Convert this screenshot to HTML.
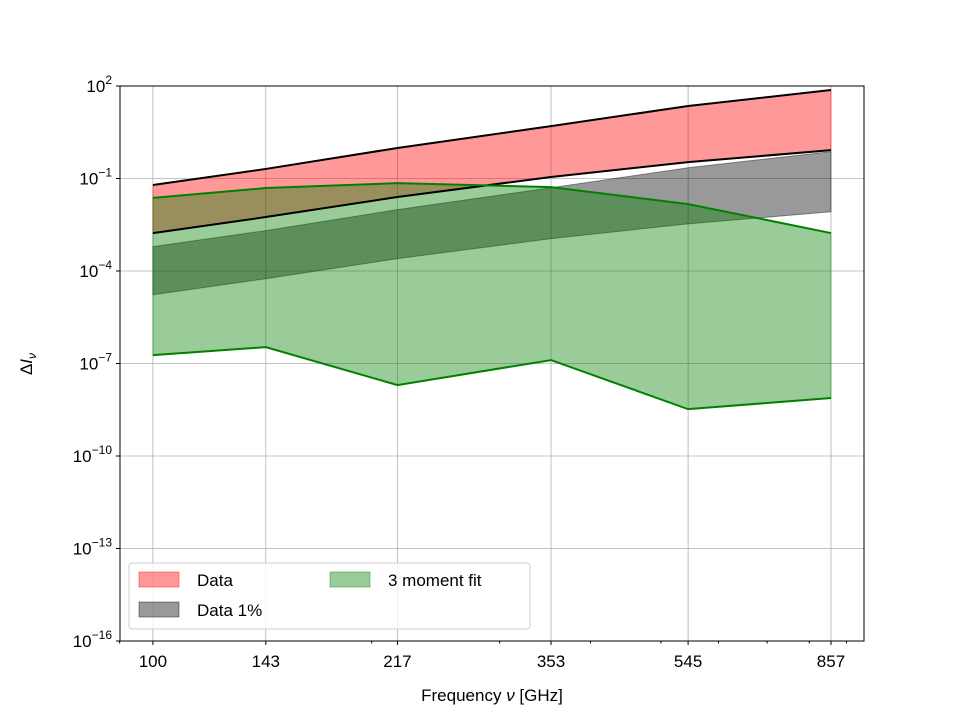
<!DOCTYPE html>
<html><head><meta charset="utf-8"><style>
body{margin:0;background:#fff;font-family:"Liberation Sans","DejaVu Sans",sans-serif}
</style></head><body>
<svg id="chart" width="960" height="720" xmlns="http://www.w3.org/2000/svg"></svg>
<script>
const freqs=[100,143,217,353,545,857];
const dataUpperExp=[-1.21,-0.69,-0.01,0.70,1.35,1.87];
const dataLowerExp=[-2.77,-2.25,-1.60,-0.95,-0.47,-0.08];
const onePctUpperExp=[-3.21,-2.69,-2.01,-1.30,-0.65,-0.13];
const onePctLowerExp=[-4.77,-4.25,-3.60,-2.95,-2.47,-2.08];
const fitUpperExp=[-1.63,-1.31,-1.15,-1.28,-1.83,-2.77];
const fitLowerExp=[-6.73,-6.47,-7.70,-6.89,-8.48,-8.12];
const yTickExps=[2,-1,-4,-7,-10,-13,-16];
const minorFreqs=[90,200,300,400,500,600,700,800,900];

const L=120,R=864,T=86,B=641;
const xmin=Math.log10(90.1),xmax=Math.log10(951.5);
const X=f=>L+(Math.log10(f)-xmin)/(xmax-xmin)*(R-L);
const Y=e=>T+(2-e)/18*(B-T);
const svg=document.getElementById('chart');
const NS='http://www.w3.org/2000/svg';
function mk(tag,attrs,parent){const el=document.createElementNS(NS,tag);for(const k in attrs)el.setAttribute(k,attrs[k]);(parent||svg).appendChild(el);return el;}

// grid
yTickExps.forEach(e=>{const g=mk('line',{x1:L,x2:R,y1:Y(e),y2:Y(e),stroke:'#b0b0b0','stroke-width':0.8});

});
freqs.forEach(f=>{const g=mk('line',{x1:X(f),x2:X(f),y1:T,y2:B,stroke:'#b0b0b0','stroke-width':0.8});

});

function band(up,lo,fill,op,stroke,name){
  let d='M'+freqs.map((f,i)=>X(f)+','+Y(up[i])).join('L');
  d+='L'+freqs.slice().reverse().map((f,j)=>X(f)+','+Y(lo[freqs.length-1-j])).join('L')+'Z';
  const p=mk('path',{d:d,fill:fill,'fill-opacity':op,stroke:stroke,'stroke-opacity':op,'stroke-width':1});
  
  
}
function line(arr,color,name){
  const p=mk('polyline',{points:freqs.map((f,i)=>X(f)+','+Y(arr[i])).join(' '),fill:'none',stroke:color,'stroke-width':2});
  
  
}
band(dataUpperExp,dataLowerExp,'red',0.4,'red','data-band');
band(onePctUpperExp,onePctLowerExp,'black',0.4,'black','data-1pct-band');
band(fitUpperExp,fitLowerExp,'green',0.4,'green','fit-band');
line(dataUpperExp,'black','data-upper-line');
line(dataLowerExp,'black','data-lower-line');
line(fitUpperExp,'green','fit-upper-line');
line(fitLowerExp,'green','fit-lower-line');

// axes frame
const fr=mk('rect',{x:L,y:T,width:R-L,height:B-T,fill:'none',stroke:'black','stroke-width':1});



yTickExps.forEach(e=>{
  mk('line',{x1:L-4,x2:L,y1:Y(e),y2:Y(e),stroke:'black'});
  const t=mk('text',{x:L-8,y:Y(e)+6,'text-anchor':'end','font-size':17});
  
  
  t.innerHTML='10<tspan dy="-8" font-size="12">'+(e<0?'\u2212'+(-e):e)+'</tspan>';
});
minorFreqs.forEach(f=>mk('line',{x1:X(f),x2:X(f),y1:B,y2:B+2.5,stroke:'black'}));
freqs.forEach(f=>{
  mk('line',{x1:X(f),x2:X(f),y1:B,y2:B+4,stroke:'black'});
  const t=mk('text',{x:X(f),y:B+26,'text-anchor':'middle','font-size':17});
  
  
  t.textContent=f;
});
const xt=mk('text',{x:492,y:701,'text-anchor':'middle','font-size':17});


xt.innerHTML='Frequency <tspan font-style="italic">ν</tspan> [GHz]';
const yt=mk('text',{x:32,y:364,'text-anchor':'middle','font-size':17,transform:'rotate(-90 32 364)'});


yt.innerHTML='Δ<tspan font-style="italic">I</tspan><tspan font-style="italic" font-size="12" dy="4">ν</tspan>';

// legend
const lg=mk('g',{});


mk('rect',{x:129,y:563,width:401,height:66,rx:3,fill:'white','fill-opacity':0.8,stroke:'#ccc'},lg);
const items=[['Data','red',139,572],['Data 1%','black',139,602],['3 moment fit','green',330,572]];
items.forEach(it=>{
  const g=mk('g',{},lg);
  
  
  mk('rect',{x:it[2],y:it[3],width:40,height:15,fill:it[1],'fill-opacity':0.4,stroke:it[1],'stroke-opacity':0.4},g);
  const t=mk('text',{x:it[2]+58,y:it[3]+14,'font-size':17},g);
  t.textContent=it[0];
});
</script>
</body></html>
